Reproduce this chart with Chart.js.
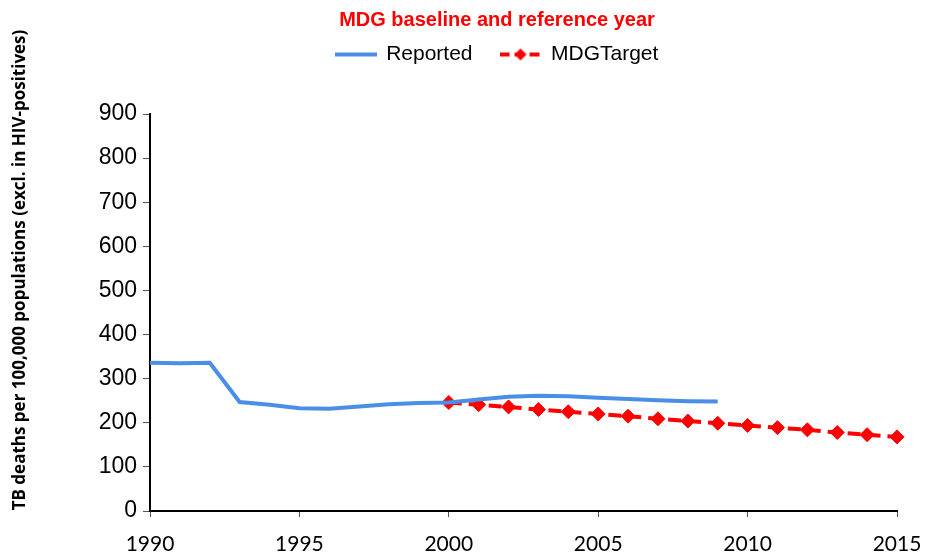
<!DOCTYPE html>
<html>
<head>
<meta charset="utf-8">
<script src="https://cdn.jsdelivr.net/npm/chart.js@4/dist/chart.umd.min.js"></script>
<style>
  html, body { margin: 0; padding: 0; background: #fff; }
  #wrap { width: 926px; height: 555px; }
</style>
</head>
<body>
<div id="wrap"><canvas id="chart" width="926" height="555"></canvas></div>
<script>
// data
const reportedYears = [1990, 1991, 1992, 1993, 1994, 1995, 1996, 1997, 1998, 1999,
                       2000, 2001, 2002, 2003, 2004, 2005, 2006, 2007, 2008, 2009];
const reportedValues = [336, 335, 336, 247, 241, 233, 232, 237, 242, 245,
                        246, 253, 259, 261, 260, 257, 254, 251, 249, 248];
const targetYears = [2000, 2001, 2002, 2003, 2004, 2005, 2006, 2007,
                     2008, 2009, 2010, 2011, 2012, 2013, 2014, 2015];
const targetValues = [246, 241, 236, 230, 225, 220, 215, 209,
                      204, 199, 194, 189, 184, 178, 173, 168];
const xTicks = [1990, 1995, 2000, 2005, 2010, 2015];
const yTicks = [0, 100, 200, 300, 400, 500, 600, 700, 800, 900];

const chartTitle = 'MDG baseline and reference year';
const yAxisTitle = 'TB deaths per 100,000 populations (excl. in HIV-positives)';

const blue = '#4a8fe7';
const red = '#ff0000';

// little canvases used as legend samples
function legendSample(color, dashed) {
    const c = document.createElement('canvas');
    c.width = 42;
    c.height = 14;
    const g = c.getContext('2d');
    g.strokeStyle = color;
    g.lineWidth = 4;
    if (dashed) g.setLineDash([10, 5]);
    g.beginPath();
    g.moveTo(0, 7);
    g.lineTo(42, 7);
    g.stroke();
    if (dashed) {
        g.fillStyle = color;
        g.beginPath();
        g.moveTo(21, 1);
        g.lineTo(27, 7);
        g.lineTo(21, 13);
        g.lineTo(15, 7);
        g.closePath();
        g.fill();
    }
    return c;
}
const samples = [legendSample(blue, false), legendSample(red, true)];

// push the plot area down below the legend
const legendGap = {
    id: 'legendGap',
    beforeInit(chart) {
        const fit = chart.legend.fit;
        chart.legend.fit = function () {
            fit.bind(chart.legend)();
            this.height += 39;
        };
    }
};

// rotated y-axis title at the far left edge
const yTitle = {
    id: 'yTitle',
    afterDraw(chart) {
        const ctx = chart.ctx;
        ctx.save();
        ctx.translate(20, 270);
        ctx.rotate(-Math.PI / 2);
        ctx.font = 'bold 17px "Open Sans"';
        ctx.fillStyle = '#000';
        ctx.textAlign = 'center';
        ctx.textBaseline = 'middle';
        ctx.fillText(yAxisTitle, 0, 0);
        ctx.restore();
    }
};

const data = {
    datasets: [{
        label: 'Reported',
        data: reportedYears.map((y, i) => ({ x: y, y: reportedValues[i] })),
        borderColor: blue,
        backgroundColor: blue,
        borderWidth: 4,
        pointRadius: 0,
        tension: 0
    }, {
        label: 'MDGTarget',
        data: targetYears.map((y, i) => ({ x: y, y: targetValues[i] })),
        borderColor: red,
        backgroundColor: red,
        borderWidth: 4,
        borderDash: [13, 7],
        pointStyle: 'rectRot',
        pointRadius: 7,
        pointBorderWidth: 1,
        clip: false
    }]
};

const config = {
    type: 'line',
    data: data,
    plugins: [legendGap, yTitle],
    options: {
        responsive: false,
        animation: false,
        layout: {
            padding: { left: 97, right: 29, top: 0, bottom: 0 }
        },
        plugins: {
            title: {
                display: true,
                text: chartTitle,
                color: red,
                font: { family: 'Liberation Sans, Arial', size: 20, weight: 'bold' },
                padding: { top: 8, bottom: -16 }
            },
            legend: {
                display: true,
                labels: {
                    color: '#000',
                    font: { family: 'Liberation Sans, Arial', size: 21 },
                    usePointStyle: true,
                    pointStyleWidth: 40,
                    padding: 28,
                    generateLabels(chart) {
                        const items = Chart.defaults.plugins.legend.labels.generateLabels(chart);
                        items.forEach((it, i) => { it.pointStyle = samples[i]; });
                        return items;
                    }
                }
            },
            tooltip: { enabled: false }
        },
        scales: {
            x: {
                type: 'linear',
                min: 1990,
                max: 2015,
                afterFit(scale) {
                    scale.height = 44;
                    scale.paddingLeft = 0;
                    scale.paddingRight = 0;
                },
                afterBuildTicks(scale) { scale.ticks = xTicks.map(v => ({ value: v })); },
                ticks: {
                    color: '#000',
                    font: { family: 'Lato', size: 21 },
                    padding: 15,
                    maxRotation: 0,
                    callback: v => String(v)
                },
                grid: { drawOnChartArea: false, drawTicks: true, tickLength: 6, color: '#555' },
                border: { color: '#000', width: 2 }
            },
            y: {
                min: 0,
                max: 900,
                afterFit(scale) { scale.width = 53; },
                afterBuildTicks(scale) { scale.ticks = yTicks.map(v => ({ value: v })); },
                ticks: {
                    color: '#000',
                    font: { family: 'Liberation Sans, Arial', size: 23 },
                    padding: 6
                },
                grid: { drawOnChartArea: false, drawTicks: true, tickLength: 7, color: '#555' },
                border: { color: '#000', width: 2 }
            }
        }
    }
};

const myChart = new Chart(document.getElementById('chart'), config);
</script>
</body>
</html>
